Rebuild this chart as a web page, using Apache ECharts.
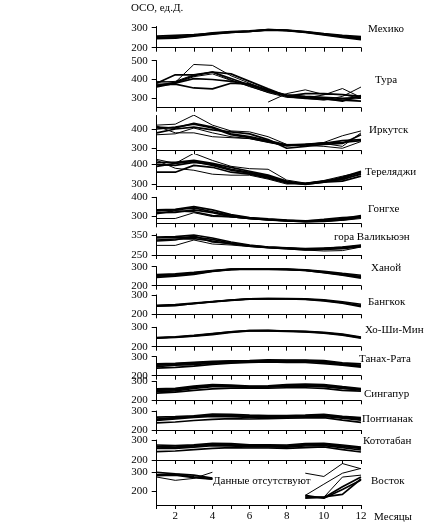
<!DOCTYPE html>
<html>
<head>
<meta charset="utf-8">
<script src="https://cdn.jsdelivr.net/npm/echarts@6/dist/echarts.min.js"></script>
<style>
html,body{margin:0;padding:0;background:#fff;}
#c{width:424px;height:524px;}
</style>
</head>
<body>
<div id="c"></div>
<script>
const months = [1,2,3,4,5,6,7,8,9,10,11,12];
const xTickLabels = [2,4,6,8,10,12];
const stationNames = ['Мехико','Тура','Иркутск','Тереляджи','Гонгхе','гора Валикьюэн','Ханой','Бангкок','Хо-Ши-Мин','Танах-Рата','Сингапур','Понтианак','Кототабан','Восток'];
const yTickValues = [[200,300],[300,400,500],[300,400],[300,400],[300,400],[250,350],[200,300],[200,300],[200,300],[200,300],[200,300],[200,300],[200,300],[200,300]];

const mexico = [
  [258,262,266,272,278,282,290,288,280,270,262,256],
  [250,256,262,270,277,282,289,286,278,266,255,245],
  [245,248,258,268,276,281,288,285,276,264,252,240],
  [252,250,262,274,280,284,291,287,279,268,258,250]
];
const tura = [
  [390,385,480,475,420,380,340,315,305,300,290,300],
  [380,425,425,440,430,390,350,312,325,325,320,310],
  [360,380,405,400,390,375,340,318,310,305,300,305],
  [370,375,355,350,380,375,345,310,300,295,290,285],
  [365,385,420,440,405,370,338,315,305,300,285,315],
  [null,null,null,null,null,null,280,325,345,320,320,300],
  [375,380,415,430,395,365,330,305,300,290,310,360],
  [385,390,425,438,398,362,332,312,302,318,352,305]
];
const irkutsk = [
  [420,425,472,420,390,385,360,320,318,325,310,380],
  [410,405,430,410,375,360,340,318,320,328,330,340],
  [400,410,425,405,370,355,335,315,320,325,340,345],
  [370,375,405,380,360,350,332,312,318,330,365,390],
  [415,380,380,360,355,350,330,312,315,310,300,335],
  [380,400,410,395,385,375,345,300,310,320,325,370]
];
const tereldzh = [
  [425,405,456,420,390,378,375,320,305,315,320,355],
  [410,410,420,405,385,365,345,315,300,315,330,360],
  [400,395,410,400,375,360,340,310,302,312,325,350],
  [360,360,395,385,360,350,330,305,300,310,315,340],
  [420,380,370,350,345,345,325,300,305,318,340,360],
  [390,405,415,395,370,355,335,310,298,310,335,365]
];
const gonghe = [
  [335,338,352,335,310,295,288,282,278,280,290,305],
  [330,335,345,325,305,292,285,280,275,278,285,300],
  [320,322,335,320,300,290,283,278,273,275,282,295],
  [290,290,320,300,298,288,282,276,272,275,280,290],
  [315,330,325,305,300,290,284,279,276,285,295,298]
];
const waliguan = [
  [340,342,350,335,315,300,290,285,280,282,290,300],
  [335,338,340,328,310,296,288,284,278,280,285,297],
  [325,330,332,320,305,294,287,282,275,278,282,292],
  [298,298,325,305,300,292,286,280,275,270,272,290],
  [320,325,345,315,308,297,289,286,282,285,288,295]
];
const hanoi = [
  [258,262,270,280,287,288,288,287,283,276,265,255],
  [250,258,266,278,286,288,287,286,282,272,260,248],
  [244,250,260,275,285,287,286,285,280,268,255,240],
  [252,255,264,277,286,289,288,286,281,270,258,245]
];
const bangkok = [
  [247,250,258,266,274,280,281,281,280,275,265,252],
  [242,245,256,264,272,279,280,280,278,272,260,245],
  [244,248,255,265,273,280,281,280,277,270,258,240]
];
const hochiminh = [
  [246,250,256,266,276,283,283,281,279,274,265,250],
  [244,248,255,262,274,282,282,279,276,270,260,244],
  [247,251,258,268,277,283,284,281,278,272,262,247]
];
const tanahrata = [
  [262,265,270,275,278,280,283,282,282,280,268,262],
  [255,260,265,272,275,276,278,278,278,276,262,255],
  [248,255,258,266,270,272,275,276,275,270,258,250],
  [240,244,250,260,266,270,272,270,270,264,255,245],
  [258,262,268,270,272,277,280,280,280,274,262,252]
];
const singapore = [
  [260,263,275,283,280,275,276,282,285,283,272,262],
  [252,257,268,278,276,272,274,278,280,278,268,258],
  [245,250,262,272,272,270,270,274,276,272,262,255],
  [238,243,252,260,264,264,264,266,266,263,252,248],
  [255,255,270,276,275,268,270,280,278,275,264,258]
];
const pontianak = [
  [268,270,275,284,282,278,276,276,278,283,272,265],
  [258,265,270,278,276,272,272,272,275,278,265,258],
  [250,258,266,272,270,266,268,268,272,272,262,252],
  [238,242,250,256,260,258,260,262,264,265,252,240],
  [255,262,272,276,274,270,272,270,270,275,268,262]
];
const kototabang = [
  [275,272,276,283,282,276,276,275,282,283,275,265],
  [265,262,270,278,276,272,272,270,275,278,268,258],
  [258,258,264,272,270,266,266,264,270,272,262,250],
  [242,245,252,258,262,260,260,258,262,265,252,240],
  [268,265,272,276,273,270,270,268,277,280,270,260]
];
const vostok = [
  [300,292,285,270,null,null,null,null,null,null,null,null],
  [275,258,268,300,null,null,null,null,null,null,null,null],
  [288,290,276,266,null,null,null,null,null,null,null,null],
  [282,285,272,264,null,null,null,null,null,null,null,null],
  [null,null,null,null,null,null,null,null,295,278,345,318],
  [null,null,null,null,null,null,null,null,180,238,295,320],
  [null,null,null,null,null,null,null,null,175,170,275,285],
  [null,null,null,null,null,null,null,null,170,168,225,275],
  [null,null,null,null,null,null,null,null,165,172,185,265],
  [null,null,null,null,null,null,null,null,180,165,210,260]
];
const stationData = [mexico,tura,irkutsk,tereldzh,gonghe,waliguan,hanoi,bangkok,hochiminh,tanahrata,singapore,pontianak,kototabang,vostok];

// layout: pixel top/bottom of each panel and axis extent
const layout = [
  {top:26.5, bottom:47.7, min:200, max:306},
  {top:60.7, bottom:107.7, min:250, max:500},
  {top:115.5, bottom:150.2, min:290, max:470},
  {top:154.5, bottom:186, min:290, max:450},
  {top:197.3, bottom:223.3, min:265, max:400},
  {top:234, bottom:255, min:250, max:355},
  {top:266.7, bottom:285.7, min:200, max:300},
  {top:295, bottom:314.3, min:200, max:300},
  {top:327.3, bottom:346.7, min:200, max:300},
  {top:356.7, bottom:375.7, min:200, max:300},
  {top:381.3, bottom:400.3, min:200, max:300},
  {top:411, bottom:430, min:200, max:300},
  {top:440, bottom:460, min:200, max:300},
  {top:462.6, bottom:505, min:130, max:350}
];
const labelPos = [
  [368,29],[375,80],[369,130],[365,172],[368,209],[334,237],[371,268],
  [368,302],[365,330],[359,359],[364,394],[362,419],[363,441],[371,481]
];
const thinIdx = {1:[0,5,6,7],2:[0,3,4],3:[0,4],4:[3],5:[3],13:[1,4,5,6]};

const font = '"Liberation Serif","Times New Roman",serif';
const grids=[], xAxes=[], yAxes=[], series=[], graphics=[];
layout.forEach((p,i)=>{
  const last = i===layout.length-1;
  grids.push({left:156.7, right:63, top:p.top, height:p.bottom-p.top});
  xAxes.push({
    type:'value', gridIndex:i, min:1, max:12, interval:1,
    axisLine:{show:true, onZero:false, lineStyle:{color:'#000', width:1}},
    axisTick:{show:true, length:4, inside:false, lineStyle:{color:'#000'}},
    splitLine:{show:false},
    axisLabel:{show:last, margin:6, color:'#000', fontFamily:font, fontSize:11,
      formatter:v=>xTickLabels.indexOf(v)>=0?String(v):''}
  });
  yAxes.push({
    type:'value', gridIndex:i, min:p.min, max:p.max,
    axisLine:{show:true, lineStyle:{color:'#000', width:1}},
    axisTick:{show:true, length:5, customValues:yTickValues[i], lineStyle:{color:'#000'}},
    axisLabel:{show:true, margin:9, color:'#000', fontFamily:font, fontSize:11, customValues:yTickValues[i]},
    splitLine:{show:false}
  });
  stationData[i].forEach((line,j)=>{
    const thin = thinIdx[i] && thinIdx[i].indexOf(j)>=0;
    series.push({
      type:'line', xAxisIndex:i, yAxisIndex:i, symbol:'none', silent:true,
      connectNulls:false, animation:false,
      lineStyle:{color:'#000', width: thin?1:1.7},
      data: months.map((m,k)=>[m, line[k]===null?'-':line[k]])
    });
  });
  graphics.push({type:'text', x:labelPos[i][0], y:labelPos[i][1],
    style:{text:stationNames[i], fill:'#000', font:'11px '+font, textVerticalAlign:'middle'}});
});
graphics.push({type:'text', x:131, y:8, style:{text:'ОСО, ед.Д.', fill:'#000', font:'11px '+font, textVerticalAlign:'middle'}});
graphics.push({type:'text', x:374, y:517, style:{text:'Месяцы', fill:'#000', font:'11px '+font, textVerticalAlign:'middle'}});
graphics.push({type:'text', x:213, y:481, style:{text:'Данные отсутствуют', fill:'#000', font:'11px '+font, textVerticalAlign:'middle'}});

const chart = echarts.init(document.getElementById('c'), null, {renderer:'canvas'});
chart.setOption({
  backgroundColor:'#fff', animation:false,
  grid:grids, xAxis:xAxes, yAxis:yAxes, series:series, graphic:graphics
});
</script>
</body>
</html>
